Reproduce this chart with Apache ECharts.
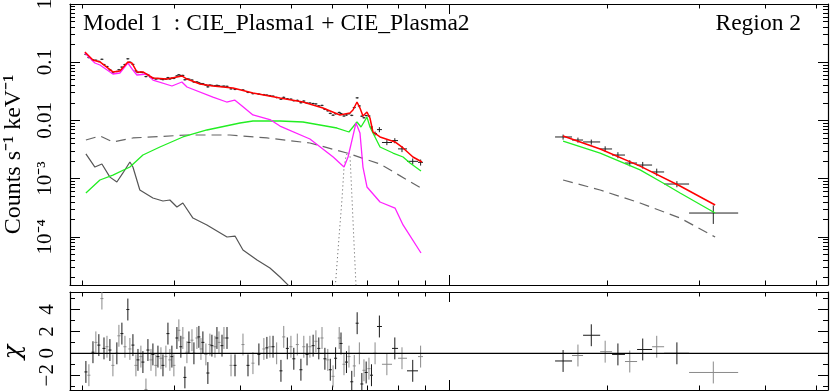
<!DOCTYPE html>
<html>
<head>
<meta charset="utf-8">
<script src="https://cdn.jsdelivr.net/npm/echarts@6/dist/echarts.min.js"></script>
<style>
html, body { margin: 0; padding: 0; background: #fff; }
#chart { width: 831px; height: 392px; }
</style>
</head>
<body>
<div id="chart"></div>
<script>
var LG = Math.log10;
var FONT = 'Liberation Serif';

// axis ranges (keV, counts/s/keV, chi)
var eMin = 0.1898, eMax = 5.268;
var cMin = 1.485e-5, cMax = 1;
var chiMin = -3.35, chiMax = 5.6;

// tick values and labels
var xMajor = [1];
var xMinor = [0.2, 0.3, 0.4, 0.5, 0.6, 0.7, 0.8, 0.9, 2, 3, 4, 5];
var yMajor = [1e-4, 1e-3, 0.01, 0.1, 1];
var yLabels = ['10⁻⁴', '10⁻³', '0.01', '0.1', '1'];
var chiMajor = [-2, 0, 2, 4];
var chiMinor = [-3, -1, 1, 3, 5];
var yMinor = [];
[-5, -4, -3, -2, -1].forEach(function (d) {
    for (var m = 2; m <= 9; m++) yMinor.push(m * Math.pow(10, d));
});

// data, soft band (keV / counts s-1 keV-1 / chi)
var leftE = [
    0.2035, 0.2062, 0.2099, 0.2126, 0.2154, 0.2183, 0.2203, 0.2232, 0.2261, 0.2291,
    0.2331, 0.2352, 0.2383, 0.2415, 0.2446, 0.2468, 0.2501, 0.2534, 0.2557, 0.2590,
    0.2613, 0.2648, 0.2671, 0.2707, 0.2730, 0.2766, 0.2791, 0.2828, 0.2853, 0.2890,
    0.2916, 0.2941, 0.2967, 0.2993, 0.3033, 0.3059, 0.3086, 0.3113, 0.3141, 0.3169,
    0.3197, 0.3240, 0.3268, 0.3311, 0.3340, 0.3370, 0.3399, 0.3444, 0.3474, 0.3505,
    0.3536, 0.3584, 0.3615, 0.3647, 0.3696, 0.3728, 0.3778, 0.3845, 0.3913, 0.4052,
    0.4142, 0.4233, 0.4345, 0.4441, 0.4500, 0.4560, 0.4623, 0.4697, 0.4786, 0.4845,
    0.4922, 0.5000, 0.5064, 0.5142, 0.5224, 0.5291, 0.5366, 0.5434, 0.5511, 0.5579,
    0.5650, 0.5730, 0.5803, 0.5877, 0.5942, 0.6015, 0.6082, 0.6179, 0.6228, 0.6310,
    0.6379, 0.6449, 0.6529, 0.6601, 0.6685, 0.6750, 0.6824, 0.6887, 0.6954, 0.7040,
    0.7118, 0.7231, 0.7369, 0.7615, 0.7885, 0.8137, 0.8529, 0.8829
];
var leftY = [
    0.136, 0.120, 0.1096, 0.1082, 0.1032, 0.1122, 0.0910, 0.0843, 0.0740, 0.0655,
    0.0692, 0.0743, 0.0824, 0.0913, 0.1144, 0.100, 0.0917, 0.0709, 0.0665, 0.0673,
    0.0663, 0.0566, 0.0608, 0.0546, 0.0533, 0.0513, 0.0523, 0.0514, 0.0502, 0.0510,
    0.0543, 0.0514, 0.0531, 0.0527, 0.0582, 0.0608, 0.0590, 0.0593, 0.0499, 0.0516,
    0.0510, 0.0494, 0.0457, 0.0459, 0.0443, 0.0428, 0.0427, 0.0404, 0.0377, 0.0405,
    0.0399, 0.0394, 0.0400, 0.0392, 0.0384, 0.0388, 0.0385, 0.0348, 0.0341, 0.0334,
    0.0303, 0.0288, 0.0283, 0.0277, 0.0272, 0.0266, 0.0261, 0.0247, 0.0231, 0.0249,
    0.0235, 0.0232, 0.0218, 0.0221, 0.0201, 0.0215, 0.0198, 0.0199, 0.0195, 0.0192,
    0.0178, 0.0181, 0.0155, 0.0146, 0.0132, 0.0123, 0.0130, 0.0137, 0.0131, 0.0119,
    0.0124, 0.0130, 0.0122, 0.0166, 0.0244, 0.0177, 0.0118, 0.0111, 0.0121, 0.0119,
    0.00770, 0.00596, 0.00695, 0.00417, 0.00450, 0.00324, 0.00198, 0.00190
];
var leftChi = [
    -1.7, -2.0, 0.1, 1.0, 0.75, 5.0, 0.45, 0.6, 0.3, -1.1,
    0.0, 1.6, 1.8, 0.6, 4.0, 0.4, 0.75, -1.1, -0.6, -0.3,
    -0.8, -3.3, 0.3, -0.6, -0.1, -1.1, -0.3, -0.45, -1.1, -0.3,
    1.8, -0.6, -0.3, -1.1, 1.4, 2.1, 0.6, 1.4, -2.2, 0.1,
    1.0, 1.2, 0.0, 1.4, 1.5, 0.4, 1.0, -0.1, -1.8, 0.8,
    0.7, 0.6, 1.4, 1.0, 0.7, 1.4, 1.4, -1.1, -1.1, 0.8,
    -1.1, -0.9, -0.1, 0.4, 0.5, 0.6, 0.6, 0.0, -1.6, 1.5,
    0.45, 0.6, -0.5, 0.8, -1.5, 0.6, -0.1, 0.6, 0.7, 1.1,
    0.45, 1.4, -0.5, -0.6, -1.5, -2.1, -0.45, 1.4, 0.9, -1.0,
    -0.8, -0.3, -2.6, -1.15, 2.75, 0.0, -2.8, -1.55, -1.75, -1.4,
    -2.0, 0.0, 2.45, -1.0, 0.45, -0.45, -1.6, -0.3
];
var leftErr = 0.03;
// wide bins at the end of the soft band
var tailLo = [0.7071, 0.7165, 0.7292, 0.7453, 0.7789, 0.7997, 0.8318, 0.8728];
var tailHi = [0.7165, 0.7292, 0.7453, 0.7789, 0.7997, 0.8318, 0.8728, 0.8922];
var tailErr = [0.08, 0.08, 0.1, 0.1, 0.1, 0.12, 0.12, 0.12];

// data, hard band
var rightE = [1.649, 1.760, 1.866, 1.983, 2.097, 2.209, 2.338, 2.486, 2.716, 3.186];
var rightLo = [1.592, 1.715, 1.800, 1.940, 2.044, 2.163, 2.281, 2.436, 2.568, 2.865];
var rightHi = [1.715, 1.800, 1.940, 2.044, 2.163, 2.281, 2.436, 2.568, 2.865, 3.553];
var rightY = [0.00519, 0.00460, 0.00426, 0.00323, 0.00254, 0.00185, 0.00171, 0.00130, 0.000807, 0.000256];
var rightErr = [0.1, 0.1, 0.1, 0.11, 0.12, 0.12, 0.13, 0.14, 0.12, 0.35];
var rightChi = [-0.7, -0.2, 1.65, 0.15, -0.1, -0.75, 0.35, 0.6, 0.0, -1.75];

// model curves [keV, counts s-1 keV-1]
var totalLeft = [[0.2026, 0.150], [0.2099, 0.109], [0.2164, 0.101], [0.2291, 0.068], [0.2362, 0.0706],
    [0.2446, 0.101], [0.2489, 0.097], [0.2545, 0.068], [0.2613, 0.068], [0.2731, 0.0535],
    [0.2903, 0.0514], [0.3100, 0.058], [0.3170, 0.0514], [0.3355, 0.0422], [0.3552, 0.039],
    [0.3878, 0.036], [0.3947, 0.0347], [0.4233, 0.0296], [0.4766, 0.0243], [0.5271, 0.0207],
    [0.5754, 0.0163], [0.6199, 0.0124], [0.6477, 0.0134], [0.6563, 0.0151], [0.6680, 0.0207],
    [0.6768, 0.0163], [0.6857, 0.0119], [0.6979, 0.0139], [0.7071, 0.0110], [0.7164, 0.00632],
    [0.7390, 0.00519], [0.7892, 0.00426], [0.8175, 0.00336], [0.8538, 0.00235], [0.8883, 0.00193]];
var totalRight = [[1.649, 0.0054], [1.940, 0.00323], [2.311, 0.00164], [2.754, 0.000746], [3.212, 0.000352]];

var plasma1 = [[0.2026, 0.144], [0.2117, 0.0969], [0.2164, 0.0895], [0.2291, 0.0627], [0.2362, 0.0652],
    [0.2446, 0.0969], [0.2501, 0.0734], [0.2545, 0.0603], [0.2660, 0.0627], [0.2731, 0.0494],
    [0.2968, 0.0390], [0.3100, 0.0457], [0.3170, 0.0375], [0.3552, 0.0252], [0.3772, 0.0207],
    [0.3907, 0.0224], [0.4036, 0.0177], [0.4233, 0.0124], [0.4576, 0.01016], [0.4766, 0.0080],
    [0.5434, 0.00479], [0.6018, 0.00235], [0.6310, 0.00158], [0.6423, 0.00235], [0.6535, 0.00460],
    [0.6650, 0.00902], [0.6768, 0.00608], [0.6857, 0.00158], [0.6979, 0.000718], [0.7390, 0.000396],
    [0.7892, 0.000312], [0.8175, 0.00016], [0.8844, 0.0000527]];

var plasma2Left = [[0.2035, 0.000566], [0.2164, 0.000946], [0.2291, 0.00115], [0.2468, 0.00158],
    [0.2613, 0.00254], [0.2815, 0.00349], [0.3113, 0.00519], [0.3459, 0.00684], [0.3999, 0.00902],
    [0.4233, 0.00977], [0.4766, 0.00977], [0.5271, 0.00939], [0.6118, 0.00740], [0.6449, 0.00632],
    [0.6679, 0.00939], [0.6798, 0.00770], [0.6979, 0.0114], [0.7071, 0.0077], [0.7165, 0.00608],
    [0.7390, 0.00349], [0.7822, 0.00275], [0.8175, 0.00235], [0.8427, 0.00185], [0.8844, 0.00135]];
var plasma2Right = [[1.649, 0.00442], [1.940, 0.00275], [2.311, 0.00141], [2.556, 0.00084],
    [2.754, 0.000566], [3.212, 0.000256]];

var bkgLeft = [[0.2035, 0.0046], [0.2164, 0.0054], [0.2291, 0.00426], [0.2501, 0.00499],
    [0.3169, 0.00561], [0.3827, 0.00561], [0.4500, 0.00499], [0.5434, 0.00409], [0.6392, 0.00275],
    [0.7390, 0.00178], [0.8844, 0.000689]];
var bkgRight = [[1.649, 0.000946], [1.940, 0.000637], [2.311, 0.000381], [2.754, 0.00021], [3.212, 0.000099]];

var softComp = [[0.2035, 0.00265], [0.2117, 0.00158], [0.2183, 0.00178], [0.2261, 0.00106],
    [0.2331, 0.000875], [0.2394, 0.00125], [0.2468, 0.00193], [0.2501, 0.00158], [0.2578, 0.000637],
    [0.2730, 0.000464], [0.2853, 0.000412], [0.2941, 0.000429], [0.3033, 0.000325], [0.3113, 0.000381],
    [0.3254, 0.00021], [0.3459, 0.00016], [0.3778, 0.0000993], [0.3913, 0.000103], [0.4052, 0.0000593],
    [0.4310, 0.0000399], [0.4560, 0.0000291], [0.4766, 0.0000204], [0.4935, 0.0000149], [0.5022, 0.0000117]];

var lineGauss = [[0.6040, 0.0000055], [0.6077, 0.0000149], [0.6172, 0.0000953], [0.6253, 0.000429],
    [0.6310, 0.00152], [0.6367, 0.00245], [0.6423, 0.00286], [0.6479, 0.00245], [0.6535, 0.000464],
    [0.6592, 0.000081], [0.6650, 0.0000149], [0.6679, 0.0000067]];

// ---- build rows for crosses ----
var topRows = [], resRows = [];
var nTail = leftE.length - tailLo.length;
leftE.forEach(function (e, i) {
    var t = i - nTail;
    var lo = t >= 0 ? tailLo[t] : e, hi = t >= 0 ? tailHi[t] : e;
    var err = t >= 0 ? tailErr[t] : leftErr;
    var y = leftY[i];
    topRows.push([LG(e), LG(y), LG(y * (1 - err)), LG(y * (1 + err)), LG(lo), LG(hi)]);
    resRows.push([LG(e), leftChi[i], leftChi[i] - 1, leftChi[i] + 1, LG(lo), LG(hi)]);
});
rightE.forEach(function (e, i) {
    var y = rightY[i], err = rightErr[i];
    topRows.push([LG(e), LG(y), LG(y * (1 - err)), LG(y * (1 + err)), LG(rightLo[i]), LG(rightHi[i])]);
    resRows.push([LG(e), rightChi[i], rightChi[i] - 1, rightChi[i] + 1, LG(rightLo[i]), LG(rightHi[i])]);
});

function crossRender(colorOf) {
    return function (params, api) {
        var x = api.value(0), y = api.value(1);
        var p = api.coord([x, y]);
        var pl = api.coord([api.value(4), y])[0], ph = api.coord([api.value(5), y])[0];
        var yl = api.coord([x, api.value(2)])[1], yh = api.coord([x, api.value(3)])[1];
        var st = { stroke: colorOf(params.dataIndex), lineWidth: 1 };
        return {
            type: 'group',
            children: [
                { type: 'line', shape: { x1: p[0], y1: yl, x2: p[0], y2: yh }, style: st },
                { type: 'line', shape: { x1: Math.min(pl, p[0] - 1.5), y1: p[1], x2: Math.max(ph, p[0] + 1.5), y2: p[1] }, style: st }
            ]
        };
    };
}

// ---- axes ----
function xAx(grid, pos, vals, len, line) {
    return {
        type: 'value', gridIndex: grid, position: pos, min: LG(eMin), max: LG(eMax),
        axisLine: { show: line, onZero: false, lineStyle: { color: '#000', width: 1.2 } },
        axisTick: { show: true, inside: true, length: len, customValues: vals.map(LG), lineStyle: { color: '#000', width: 1 } },
        axisLabel: { show: false },
        splitLine: { show: false }
    };
}
function yAx(grid, pos, min, max, vals, len, line) {
    return {
        type: 'value', gridIndex: grid, position: pos, min: min, max: max,
        axisLine: { show: line, onZero: false, lineStyle: { color: '#000', width: 1.2 } },
        axisTick: { show: true, inside: true, length: len, customValues: vals, lineStyle: { color: '#000', width: 1 } },
        axisLabel: { show: false },
        splitLine: { show: false }
    };
}

var xAxes = [];
[0, 1].forEach(function (g) {
    xAxes.push(xAx(g, 'bottom', xMajor, 10, true));
    xAxes.push(xAx(g, 'bottom', xMinor, 4.5, false));
    xAxes.push(xAx(g, 'top', xMajor, 10, true));
    xAxes.push(xAx(g, 'top', xMinor, 4.5, false));
});

var yTopMin = LG(cMin), yTopMax = LG(cMax);
var yAxes = [
    yAx(0, 'left', yTopMin, yTopMax, yMajor.map(LG), 10, true),
    yAx(0, 'left', yTopMin, yTopMax, yMinor.map(LG), 5, false),
    yAx(0, 'right', yTopMin, yTopMax, yMajor.map(LG), 10, true),
    yAx(0, 'right', yTopMin, yTopMax, yMinor.map(LG), 5, false),
    yAx(1, 'left', chiMin, chiMax, chiMajor, 10, true),
    yAx(1, 'left', chiMin, chiMax, chiMinor, 5, false),
    yAx(1, 'right', chiMin, chiMax, chiMajor, 10, true),
    yAx(1, 'right', chiMin, chiMax, chiMinor, 5, false)
];
yAxes[0].axisLabel = {
    show: true, rotate: 90, margin: 14, hideOverlap: false,
    customValues: yMajor.map(LG),
    fontFamily: FONT, fontSize: 21, color: '#000',
    formatter: function (v) {
        for (var i = 0; i < yMajor.length; i++) {
            if (Math.abs(LG(yMajor[i]) - v) < 1e-6) return yLabels[i];
        }
        return '';
    }
};
yAxes[0].name = 'Counts s⁻¹ keV⁻¹';
yAxes[0].nameLocation = 'middle';
yAxes[0].nameGap = 44;
yAxes[0].nameRotate = 90;
yAxes[0].nameTextStyle = { fontFamily: FONT, fontSize: 24, color: '#000', padding: [0, 20, 0, 0] };

yAxes[4].axisLabel = {
    show: true, rotate: 90, margin: 12, hideOverlap: false,
    customValues: chiMajor,
    fontFamily: FONT, fontSize: 21, color: '#000',
    formatter: function (v) { return v < 0 ? '\u2212' + (-v) : String(v); }
};
yAxes[4].name = 'χ';
yAxes[4].nameLocation = 'middle';
yAxes[4].nameGap = 44;
yAxes[4].nameRotate = 90;
yAxes[4].nameTextStyle = { fontFamily: 'DejaVu Serif', fontStyle: 'italic', fontSize: 24, color: '#000', padding: [0, 22, 0, 0] };

// ---- series ----
function curve(pts, color, width, type) {
    return {
        type: 'line', xAxisIndex: 0, yAxisIndex: 0, silent: true,
        data: pts.map(function (p) { return [LG(p[0]), LG(p[1])]; }),
        symbol: 'none', lineStyle: { color: color, width: width, type: type || 'solid' }
    };
}

var series = [
    curve(lineGauss, '#555', 1, [1, 3]),
    curve(softComp, '#555', 1.2),
    curve(bkgLeft, '#666', 1.2, [10, 6]),
    curve(bkgRight, '#666', 1.2, [10, 6]),
    curve(plasma2Left, '#22ee22', 1.3),
    curve(plasma2Right, '#22ee22', 1.3),
    curve(plasma1, '#ff22ff', 1.3),
    curve(totalLeft, '#ff0000', 1.5),
    curve(totalRight, '#ff0000', 1.5),
    {
        type: 'custom', xAxisIndex: 0, yAxisIndex: 0, clip: true, silent: true,
        data: topRows, encode: { x: 0, y: 1 },
        renderItem: crossRender(function () { return '#222'; })
    },
    {
        type: 'line', xAxisIndex: 4, yAxisIndex: 4, silent: true, symbol: 'none',
        data: [[LG(eMin), 0], [LG(eMax), 0]],
        lineStyle: { color: '#000', width: 1.2 }
    },
    {
        type: 'custom', xAxisIndex: 4, yAxisIndex: 4, clip: true, silent: true,
        data: resRows, encode: { x: 0, y: 1 },
        renderItem: crossRender(function (i) { return i % 2 ? '#8a8a8a' : '#1a1a1a'; })
    }
];

var chart = echarts.init(document.getElementById('chart'));
chart.setOption({
    animation: false,
    backgroundColor: '#fff',
    title: [
        { text: 'Model 1  : CIE_Plasma1 + CIE_Plasma2', left: 83, top: 12, padding: 0,
          textStyle: { fontFamily: FONT, fontSize: 23.5, fontWeight: 'normal', color: '#000' } },
        { text: 'Region 2', right: 30, top: 12, padding: 0,
          textStyle: { fontFamily: FONT, fontSize: 23.5, fontWeight: 'normal', color: '#000' } }
    ],
    grid: [
        { left: 70, right: 3, top: 4, height: 281, outerBoundsMode: 'none' },
        { left: 70, right: 3, top: 292, height: 98, outerBoundsMode: 'none' }
    ],
    xAxis: xAxes,
    yAxis: yAxes,
    series: series
});
</script>
</body>
</html>
